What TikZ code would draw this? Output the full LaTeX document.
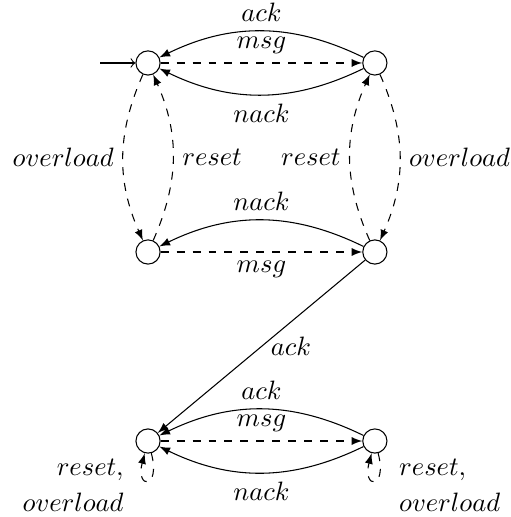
\documentclass[tikz,border=0pt]{standalone}
\usepackage{amsmath}
\usetikzlibrary{positioning}

\begin{document}
\begin{tikzpicture}[>=latex,
            st/.style={draw,circle,minimum size=0.32cm,inner sep=0pt}]
            \useasboundingbox (-1.958,0.833) rectangle (4.80,-6.005);
            \node[st] (A) at (0,0){};
            \node[st] (B) at (3,0){};
            \node[st] (C) at (0,-2.5){};
            \node[st] (D) at (3,-2.5){};
            \node[st] (E) at (0,-5){};
            \node[st] (F) at (3,-5){};
            \coordinate (start) at (-0.635,0);
            \draw[-to] (start)--(A);
            \draw[->] (B) to[bend right=26] node[above] {$ack$} (A);
            \draw[->,dashed] (A) -- node[above] {$msg$} (B);
            \draw[->] (B) to[bend left=26] node[below] {$nack$} (A);
            \draw[->,dashed] (A) to[bend right=24] node[left] {$overload$} (C);
            \draw[->,dashed] (C) to[bend right=24] node[right] {$reset$} (A);
            \draw[->,dashed] (B) to[bend left=24] node[right] {$overload$} (D);
            \draw[->,dashed] (D) to[bend left=24] node[left] {$reset$} (B);
            \draw[->] (D) to[bend right=26] node[above] {$nack$} (C);
            \draw[->,dashed] (C) -- node[below] {$msg$} (D);
            \draw[->] (D) -- node[right] {$ack$} (E);
            \draw[->] (F) to[bend right=26] node[above] {$ack$} (E);
            \draw[->,dashed] (E) -- node[above] {$msg$} (F);
            \draw[->] (F) to[bend left=26] node[below] {$nack$} (E);
            \draw[->,dashed] (E) to[out=-75,in=-105,loop] (E);
            \draw[->,dashed] (F) to[out=-75,in=-105,loop] (F);
            \node[align=right,below left=0cm and 0.08cm of E] (lE) {$reset,$\\[1.5pt]$overload$};
            \node[align=left,below right=0cm and 0.08cm of F] (lF) {$reset,$\\[1.5pt]$overload$};
\end{tikzpicture}
\end{document}
